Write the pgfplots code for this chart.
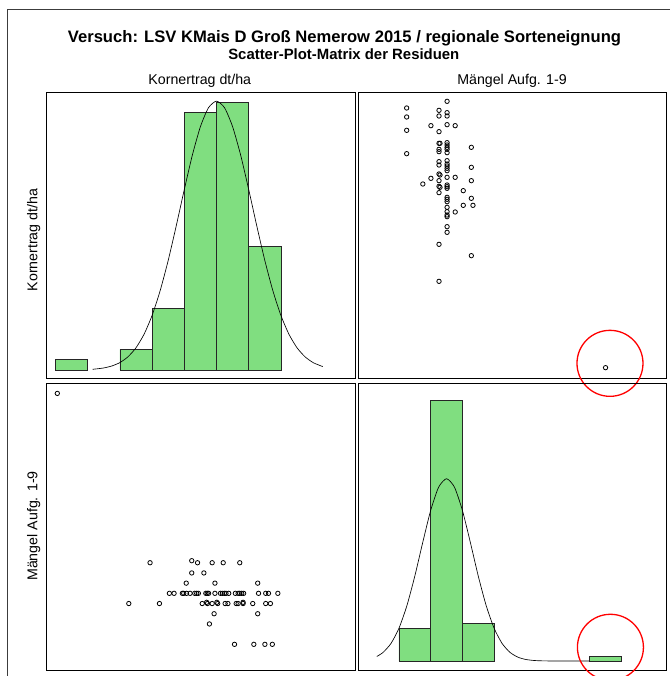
\documentclass[border=0pt]{standalone}
\usepackage{pgfplots}
\pgfplotsset{compat=1.18}
\usepackage{pgfplotstable}
\usepackage{fontspec}
\setmainfont{Liberation Sans}
\definecolor{histgreen}{RGB}{128,222,128}
\definecolor{framegray}{RGB}{60,60,60}

% residual pairs: L = Maengel residual (level units), K = Kornertrag residual (scaled units)
\pgfplotstableread{
L K
0 -54
0 -81
0 -121
0 -191
2 -282
3 -107
3 -265
4 -61
4 -78
4 -125
4 -160
4.12 -160
4 -178
4 -185
4 -215
4 -225
4 -252
4.12 -255
4 -272
4 -289
4.12 -292
4 -308
4 -463
4 -574
5 -34
5 -68
5 -78
5 -104
5 -158
5 -165
5 -172
5 -178
5 -188
5 -212
5 -222
5 -228
5 -235
5 -242
5 -262
5 -285
5 -290
5 -295
5 -322
5 -328
5 -335
5 -352
5 -365
5 -375
5 -380
5 -410
5 -427
6 -107
6 -262
6 -366
7 -302
7 -346
8 -172
8 -232
8 -272
8 -325
8.2 -346
8 -497
24.6 -833
}\resid

\pgfplotsset{
  panel/.style={scale only axis, anchor=north west, xtick=\empty, ytick=\empty,
    axis line style={line width=0.9pt, black}, clip=false},
  bars/.style={ybar interval, fill=histgreen, draw=black!85, line width=0.75pt},
  curve/.style={black, line width=0.65pt, smooth, tension=0.4},
  pts/.style={only marks, mark=o, mark size=2.2pt, black, mark options={line width=0.8pt}},
}

\begin{document}
\begin{tikzpicture}[x=1pt,y=1pt]
\useasboundingbox (0,0) rectangle (669,-676);
\draw[framegray, line width=1pt] (7.3,-9.5) rectangle (720,-720);

\node[anchor=base, font=\bfseries\fontsize{16.6}{19}\selectfont] at (344.5,-42.3) {Versuch: LSV KMais D Groß Nemerow 2015 / regionale Sorteneignung};
\node[anchor=base, font=\bfseries\fontsize{14.9}{17}\selectfont] at (343.8,-59.3) {Scatter-Plot-Matrix der Residuen};
\node[anchor=base, font=\fontsize{14.2}{16}\selectfont] at (199.8,-84.3) {Kornertrag dt/ha};
\node[anchor=base, font=\fontsize{14.2}{16}\selectfont] at (512,-84.3) {Mängel Aufg. 1-9};
\node[anchor=base, rotate=90, font=\fontsize{14.2}{16}\selectfont] at (37.3,-240) {Kornertrag dt/ha};
\node[anchor=base, rotate=90, font=\fontsize{14.2}{16}\selectfont] at (37.3,-526) {Mängel Aufg. 1-9};

% top-left: histogram Kornertrag
\begin{axis}[panel, at={(46pt,-92.3pt)}, width=309pt, height=286.2pt,
  xmin=-0.295, xmax=9.301, ymin=-0.825, ymax=26.96]
\addplot[bars] coordinates {(0,1) (1,1)};
\addplot[bars] coordinates {(2,2) (3,6) (4,25) (5,26) (6,12) (7,12)};
\addplot[curve] coordinates {(1.15,0.07) (1.25,0.10) (1.5,0.20) (1.75,0.39) (2.0,0.72) (2.25,1.28) (2.5,2.16) (2.75,3.47) (3.0,5.30) (3.25,7.70) (3.5,10.64) (3.75,14.00) (4.0,17.52) (4.25,20.86) (4.5,23.62) (4.75,25.46) (5.0,26.1) (5.25,25.46) (5.5,23.62) (5.75,20.86) (6.0,17.52) (6.25,14.00) (6.5,10.64) (6.75,7.70) (7.0,5.30) (7.25,3.47) (7.5,2.16) (7.75,1.28) (8.0,0.72) (8.25,0.39) (8.3,0.34)};
\end{axis}

% top-right: Maengel (x) vs Kornertrag (y)
\begin{axis}[panel, at={(358pt,-92.3pt)}, width=308pt, height=286.2pt,
  xmin=-6.02, xmax=32.08, ymin=-865.5, ymax=-6.9]
\addplot[pts] table[x=L, y=K] {\resid};
\draw[red, line width=1.3pt] (axis cs:25.15,-820) circle[radius=33pt];
\end{axis}

% bottom-left: Kornertrag (x) vs Maengel (y)
\begin{axis}[panel, at={(46pt,-383.3pt)}, width=309pt, height=286.7pt,
  xmin=-874, xmax=245.5, ymin=-2.516, ymax=25.59]
\addplot[pts] table[x=K, y=L] {\resid};
\end{axis}

% bottom-right: histogram Maengel
\begin{axis}[panel, at={(358pt,-383.3pt)}, width=308pt, height=286.7pt,
  xmin=-1.293, xmax=8.423, ymin=-1.935, ymax=59.72]
\addplot[bars] coordinates {(0,7) (1,56) (2,8) (3,8)};
\addplot[bars] coordinates {(6,1) (7,1)};
\addplot[curve] coordinates {(-0.7,0.98) (-0.5,1.86) (-0.25,3.80) (0,7.06) (0.25,11.92) (0.5,18.29) (0.75,25.53) (1.0,32.40) (1.25,37.38) (1.5,39.2) (1.75,37.38) (2.0,32.40) (2.25,25.53) (2.5,18.29) (2.75,11.92) (3.0,7.06) (3.25,3.80) (3.5,1.86) (3.75,0.83) (4.0,0.33) (4.25,0.12) (4.5,0.04) (5.0,0.0) (6.0,0.0)};
\draw[red, line width=1.3pt] (axis cs:6.67,2.95) circle[radius=33pt];
\end{axis}
\end{tikzpicture}
\end{document}
